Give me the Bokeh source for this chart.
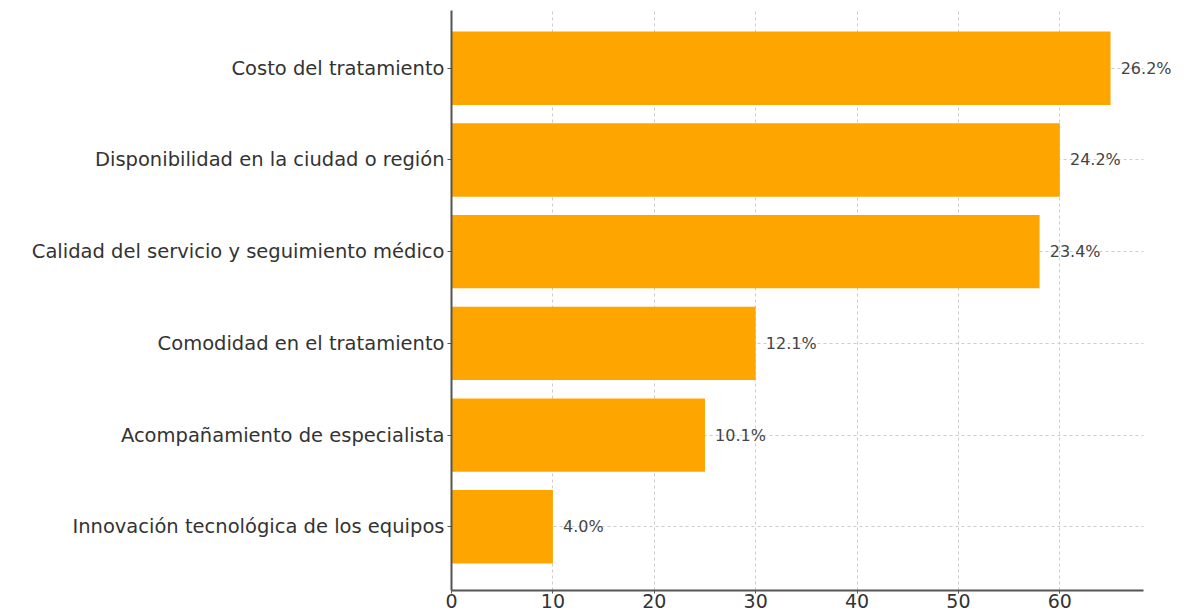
from bokeh.plotting import figure
from bokeh.models import ColumnDataSource, FixedTicker, Range1d, LabelSet
from bokeh.core.properties import value
from bokeh.embed import file_html
from bokeh.resources import INLINE

categories = [
    "Innovación tecnológica de los equipos",
    "Acompañamiento de especialista",
    "Comodidad en el tratamiento",
    "Calidad del servicio y seguimiento médico",
    "Disponibilidad en la ciudad o región",
    "Costo del tratamiento",
]
values = [10, 25, 30, 58, 60, 65]
pct_labels = ["4.0%", "10.1%", "12.1%", "23.4%", "24.2%", "26.2%"]
x_ticks = [0, 10, 20, 30, 40, 50, 60]

axis_end = max(values) * 1.05          # matplotlib-style 5% margin
view_end = axis_end * 736 / 692        # frame extends to page edge so labels are not clipped

pos = list(range(len(categories)))
src = ColumnDataSource(dict(
    y=pos, v=values, lx=[v + 1 for v in values], lab=pct_labels,
    x0=[0] * len(pos), x1=[axis_end] * len(pos),
))

p = figure(
    width=1187, height=610,
    x_range=Range1d(0, view_end),
    y_range=Range1d(-0.695, 5.63),
    output_backend="svg", toolbar_location=None,
    min_border_left=451, min_border_right=0,
    min_border_top=10, min_border_bottom=0,
)
p.outline_line_color = None
p.background_fill_color = "white"
p.border_fill_color = "white"

# x grid
p.xgrid.grid_line_color = "#cccccc"
p.xgrid.grid_line_dash = "3 3"
p.xgrid.grid_line_width = 1

# y grid limited to the axis extent
yg = p.ygrid[0]
if "cross_bounds" in yg.properties():
    yg.cross_bounds = (0, axis_end)
    yg.grid_line_color = "#cccccc"
    yg.grid_line_dash = "3 3"
    yg.grid_line_width = 1
else:
    yg.grid_line_color = None
    p.segment(x0="x0", x1="x1", y0="y", y1="y", source=src,
              line_color="#cccccc", line_dash="3 3", line_width=1,
              level="underlay")

p.hbar(y="y", right="v", left=0, height=0.8, source=src,
       fill_color="#FFA500", line_color=None)

p.text(x="lx", y="y", text="lab", source=src,
       text_font=value("DejaVu Sans"), text_font_size="16px",
       text_color="#444444", text_align="left", text_baseline="middle")

# x axis
xa = p.xaxis[0]
xa.bounds = (0, axis_end)
xa.ticker = FixedTicker(ticks=x_ticks)
xa.minor_tick_line_color = None
xa.axis_line_color = "#555555"
xa.axis_line_width = 2
xa.major_tick_line_color = "#555555"
xa.major_tick_out = 3
xa.major_tick_in = 0
xa.major_label_standoff = 0
xa.major_label_text_font = "DejaVu Sans"
xa.major_label_text_font_size = "19px"
xa.major_label_text_color = "#333333"

# y axis
ya = p.yaxis[0]
ya.ticker = FixedTicker(ticks=pos)
ya.major_label_overrides = {i: c for i, c in zip(pos, categories)}
ya.minor_tick_line_color = None
ya.axis_line_color = "#555555"
ya.axis_line_width = 2
ya.major_tick_line_color = "#555555"
ya.major_tick_out = 4
ya.major_tick_in = 0
ya.major_label_standoff = 3
ya.major_label_text_font = "DejaVu Sans"
ya.major_label_text_font_size = "19.5px"
ya.major_label_text_color = "#333333"

open("out.html", "w").write(file_html(p, INLINE))
